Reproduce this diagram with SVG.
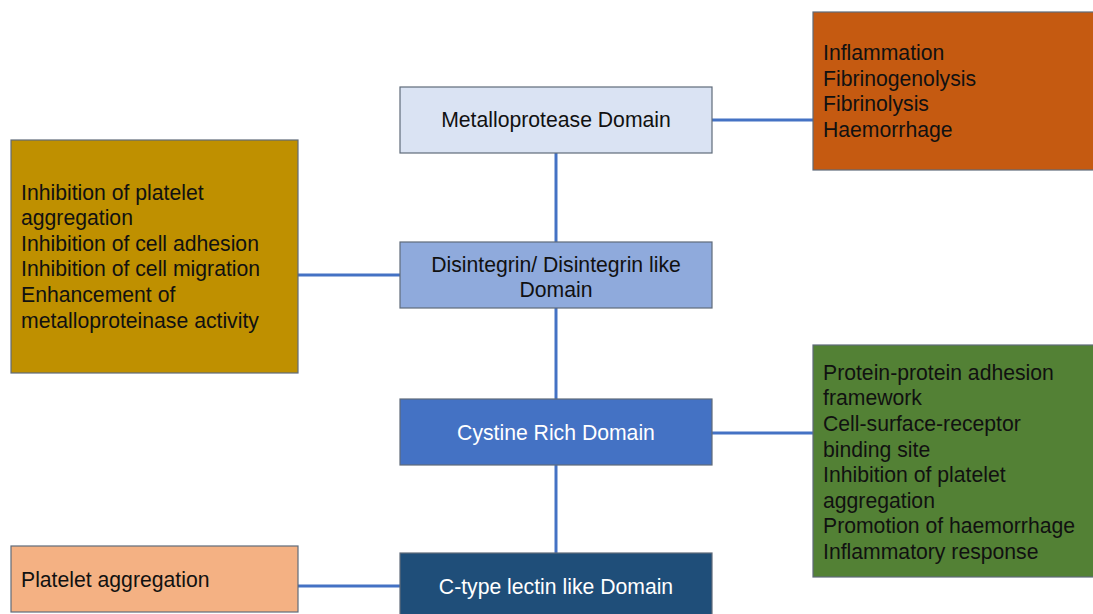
<svg xmlns="http://www.w3.org/2000/svg" width="1093" height="614" viewBox="0 0 1093 614">
<style>
.box{stroke:#5f6b7a;stroke-width:1.2}
.t{font-family:"Liberation Sans",Arial,sans-serif;font-size:21.2px;fill:#111}
.c{text-anchor:middle}
.w{fill:#fff}
.con{stroke:#4472c4;stroke-width:3;fill:none}
</style>
<rect width="1093" height="614" fill="#fff"/>
<g id="connectors">
<line class="con" x1="556" y1="153" x2="556" y2="242"/>
<line class="con" x1="556" y1="308" x2="556" y2="399"/>
<line class="con" x1="556" y1="465" x2="556" y2="553"/>
<line class="con" x1="712" y1="120" x2="813" y2="120"/>
<line class="con" x1="298" y1="275" x2="400" y2="275"/>
<line class="con" x1="712" y1="433" x2="813" y2="433"/>
<line class="con" x1="298" y1="586" x2="400" y2="586"/>
</g>
<g id="metalloprotease">
<rect class="box" x="400" y="87" width="312" height="66" fill="#dae3f3"/>
<text class="t c" x="556" y="127">Metalloprotease Domain</text>
</g>
<g id="disintegrin">
<rect class="box" x="400" y="242" width="312" height="66" fill="#8faadc"/>
<text class="t c" x="556" y="272">Disintegrin/ Disintegrin like</text>
<text class="t c" x="556" y="297">Domain</text>
</g>
<g id="cystine">
<rect class="box" x="400" y="399" width="312" height="66" fill="#4472c4"/>
<text class="t c w" x="556" y="440">Cystine Rich Domain</text>
</g>
<g id="ctype">
<rect class="box" x="400" y="553" width="312" height="66" fill="#1f4e79"/>
<text class="t c w" x="556" y="594">C-type lectin like Domain</text>
</g>
<g id="metallo-functions">
<rect class="box" x="813" y="12" width="282" height="158" fill="#c55a11"/>
<text class="t" x="823" y="60">Inflammation</text>
<text class="t" x="823" y="86">Fibrinogenolysis</text>
<text class="t" x="823" y="111">Fibrinolysis</text>
<text class="t" x="823" y="137">Haemorrhage</text>
</g>
<g id="disintegrin-functions">
<rect class="box" x="11" y="140" width="287" height="233" fill="#bf9000"/>
<text class="t" x="21" y="200">Inhibition of platelet</text>
<text class="t" x="21" y="225">aggregation</text>
<text class="t" x="21" y="251">Inhibition of cell adhesion</text>
<text class="t" x="21" y="276">Inhibition of cell migration</text>
<text class="t" x="21" y="302">Enhancement of</text>
<text class="t" x="21" y="328">metalloproteinase activity</text>
</g>
<g id="cystine-functions">
<rect class="box" x="813" y="345" width="282" height="232" fill="#538135"/>
<text class="t" x="823" y="380">Protein-protein adhesion</text>
<text class="t" x="823" y="405">framework</text>
<text class="t" x="823" y="431">Cell-surface-receptor</text>
<text class="t" x="823" y="457">binding site</text>
<text class="t" x="823" y="482">Inhibition of platelet</text>
<text class="t" x="823" y="508">aggregation</text>
<text class="t" x="823" y="533">Promotion of haemorrhage</text>
<text class="t" x="823" y="559">Inflammatory response</text>
</g>
<g id="ctype-functions">
<rect class="box" x="11" y="546" width="287" height="66" fill="#f4b183"/>
<text class="t" x="21" y="587">Platelet aggregation</text>
</g>
</svg>
